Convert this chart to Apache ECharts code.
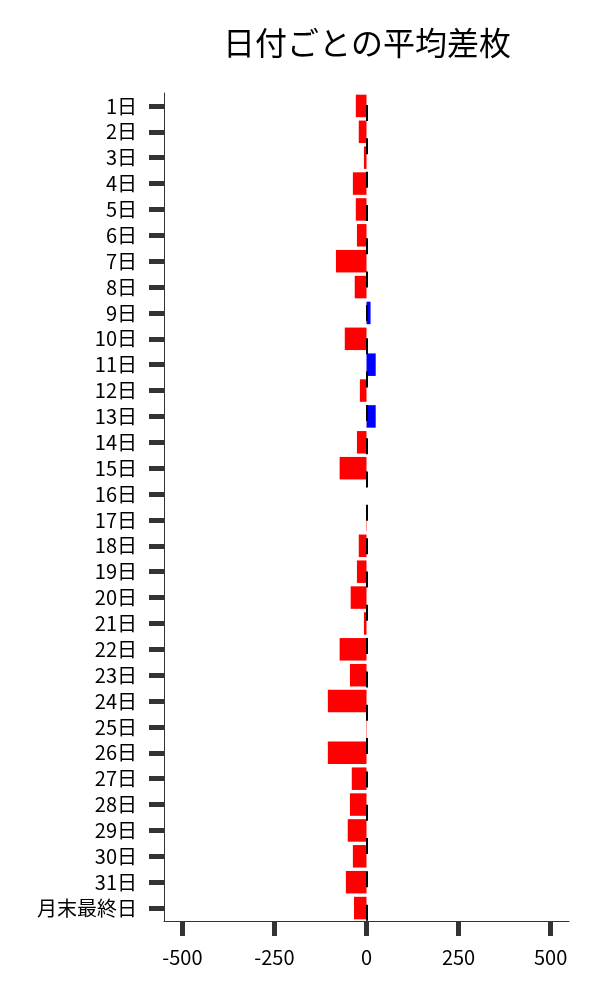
<!DOCTYPE html>
<html>
<head>
<meta charset="utf-8">
<script src="https://cdn.jsdelivr.net/npm/echarts@6/dist/echarts.min.js"></script>
<style>
html,body{margin:0;padding:0;background:#fff;}
#chart{width:600px;height:1000px;}
</style>
</head>
<body>
<div id="chart"></div>
<script>
const titleText = '日付ごとの平均差枚';
const categories = ['1日','2日','3日','4日','5日','6日','7日','8日','9日','10日','11日','12日','13日','14日','15日','16日','17日','18日','19日','20日','21日','22日','23日','24日','25日','26日','27日','28日','29日','30日','31日','月末最終日'];
const avgDiff = [-29,-21,-7,-37,-29,-26,-83,-32,11,-59,25,-18,25,-26,-73,0,-1,-21,-26,-43,-7,-73,-45,-105,-1,-105,-40,-45,-51,-37,-56,-34];
const xTicks = [-500,-250,0,250,500];

const FONT = '"Noto Sans CJK JP", "Noto Sans", sans-serif';
const chart = echarts.init(document.getElementById('chart'), null, {renderer:'canvas'});
chart.setOption({
  animation: false,
  backgroundColor: '#ffffff',
  title: {
    text: titleText,
    left: 362, top: 22, textAlign: 'center',
    textStyle: {fontFamily: FONT, fontSize: 32, fontWeight: 'normal', color: '#000'}
  },
  grid: {left: 164, right: 31, top: 93, bottom: 79, containLabel: false},
  xAxis: {
    type: 'value', min: -550, max: 550, interval: 250,
    axisLine: {show: true, onZero: false, lineStyle: {color: '#333', width: 1}},
    axisTick: {show: true, length: 15, lineStyle: {color: '#333', width: 5},
               customValues: xTicks},
    axisLabel: {fontFamily: FONT, fontSize: 20, color: '#000', margin: 26,
                customValues: xTicks},
    splitLine: {show: false}
  },
  yAxis: {
    type: 'category', data: categories, inverse: true,
    axisLine: {show: true, onZero: false, lineStyle: {color: '#333', width: 1}},
    axisTick: {show: true, alignWithLabel: true, interval: 0, length: 15, lineStyle: {color: '#333', width: 5}},
    axisLabel: {fontFamily: FONT, fontSize: 20, color: '#000', margin: 27, interval: 0},
    splitLine: {show: false}
  },
  series: [{
    type: 'bar',
    data: avgDiff.map(v => ({value: v, itemStyle: {color: v < 0 ? '#ff0000' : '#0000ff'}})),
    barWidth: '87%',
    markLine: {
      silent: true, symbol: ['none','none'], label: {show: false},
      lineStyle: {color: '#000', width: 2, type: [16, 17.32], dashOffset: 21.32},
      emphasis: {disabled: true},
      data: [{xAxis: 0}]
    }
  }]
});
</script>
</body>
</html>
